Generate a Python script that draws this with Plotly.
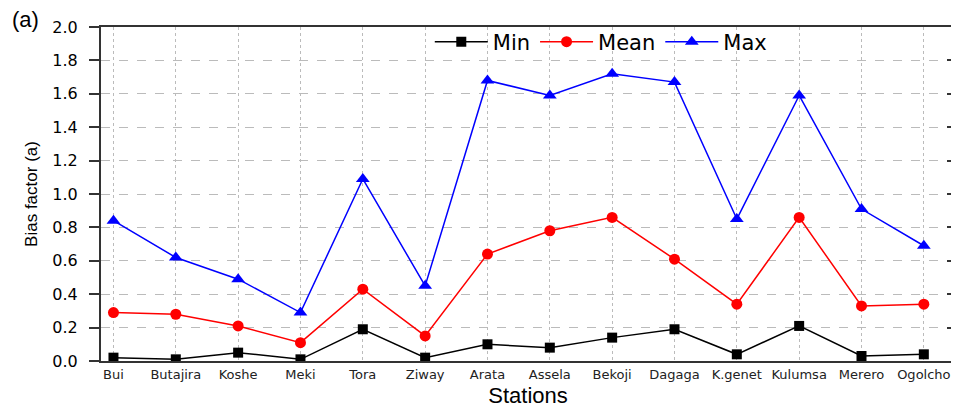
import plotly.graph_objects as go

stations = ["Bui", "Butajira", "Koshe", "Meki", "Tora", "Ziway", "Arata", "Assela",
            "Bekoji", "Dagaga", "K.genet", "Kulumsa", "Merero", "Ogolcho"]
min_vals = [0.02, 0.01, 0.05, 0.01, 0.19, 0.02, 0.10, 0.08, 0.14, 0.19, 0.04, 0.21, 0.03, 0.04]
mean_vals = [0.29, 0.28, 0.21, 0.11, 0.43, 0.15, 0.64, 0.78, 0.86, 0.61, 0.34, 0.86, 0.33, 0.34]
max_vals = [0.84, 0.62, 0.49, 0.29, 1.09, 0.45, 1.68, 1.59, 1.72, 1.67, 0.85, 1.59, 0.91, 0.69]
y_ticks = [0.0, 0.2, 0.4, 0.6, 0.8, 1.0, 1.2, 1.4, 1.6, 1.8, 2.0]

idx = list(range(len(stations)))

fig = go.Figure()
fig.add_trace(go.Scatter(x=idx, y=min_vals, name="Min", mode="lines+markers",
                         line=dict(color="black", width=1.5),
                         marker=dict(symbol="square", size=10, color="black")))
fig.add_trace(go.Scatter(x=idx, y=mean_vals, name="Mean", mode="lines+markers",
                         line=dict(color="#ff0000", width=1.5),
                         marker=dict(symbol="circle", size=11, color="#ff0000")))
fig.add_trace(go.Scatter(x=idx, y=max_vals, name="Max", mode="lines+markers",
                         line=dict(color="#0000ff", width=1.5),
                         marker=dict(symbol="triangle-up", size=12, color="#0000ff")))
# invisible trace to anchor right-side mirrored axis
fig.add_trace(go.Scatter(x=idx, y=max_vals, yaxis="y2", showlegend=False,
                         mode="markers", marker=dict(opacity=0), hoverinfo="skip"))

fig.update_layout(
    width=951, height=400,
    margin=dict(l=93, r=4, t=19, b=47, autoexpand=False),
    paper_bgcolor="white", plot_bgcolor="white",
    font=dict(family="Liberation Sans, Arial, sans-serif", color="black"),
    showlegend=True,
    legend=dict(orientation="h", x=0.385, y=0.955, xanchor="left", yanchor="middle",
                font=dict(size=21, family="DejaVu Sans, sans-serif"),
                itemwidth=53, bgcolor="rgba(0,0,0,0)", tracegroupgap=0),
    xaxis=dict(
        tickmode="array", tickvals=idx, ticktext=stations,
        range=[-0.2, 13.5],
        tickfont=dict(size=13, family="DejaVu Sans, sans-serif", color="#222"),
        showgrid=True, gridcolor="#bbbbbb", griddash="dot", gridwidth=1,
        showline=True, linecolor="#333", linewidth=2, mirror=True,
        ticks="", zeroline=False, automargin=False,
        title=dict(text="Stations", font=dict(size=22, family="Liberation Sans, Arial"), standoff=9),
    ),
    yaxis=dict(
        range=[0, 2.0], tickvals=y_ticks, tickformat=".1f",
        tickfont=dict(size=16, family="DejaVu Sans, sans-serif"),
        ticklabelstandoff=8,
        showgrid=True, gridcolor="#bbbbbb", griddash="dash", gridwidth=1,
        showline=True, linecolor="#333", linewidth=2,
        ticks="outside", ticklen=10, tickwidth=2, tickcolor="#333",
        zeroline=False, automargin=False,
        title=dict(text="Bias factor (a)", font=dict(size=17, family="Liberation Sans, Arial"), standoff=10),
    ),
    yaxis2=dict(
        range=[0, 2.0], tickvals=y_ticks, overlaying="y", side="right",
        showticklabels=False, showgrid=False, zeroline=False,
        showline=True, linecolor="#333", linewidth=2,
        ticks="inside", ticklen=8, tickwidth=2, tickcolor="#333",
    ),
    annotations=[dict(text="(a)", xref="paper", yref="paper", x=-0.1066, y=1.021,
                      xanchor="left", yanchor="middle", showarrow=False,
                      font=dict(size=22, family="Liberation Sans, Arial"))],
)

fig.write_html("out.html")
